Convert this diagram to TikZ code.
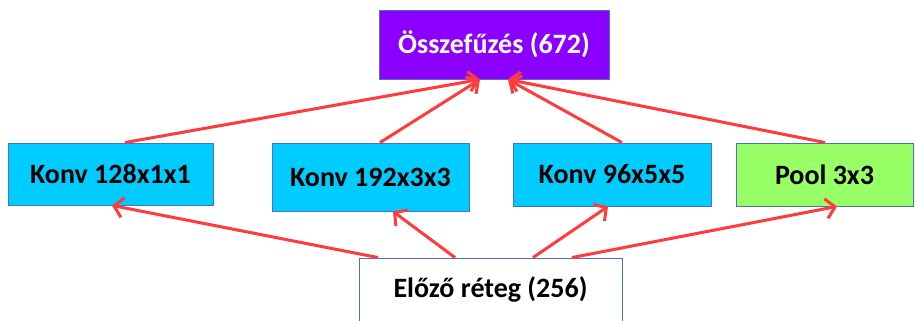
\documentclass[tikz,border=0pt]{standalone}
\usepackage{fontspec}
\setmainfont{Carlito}
\usetikzlibrary{arrows.meta}
\definecolor{edgeblue}{HTML}{4A72C0}
\definecolor{concatfill}{HTML}{8B00FF}
\definecolor{convfill}{HTML}{00CCFF}
\definecolor{poolfill}{HTML}{99FF66}
\definecolor{flowred}{HTML}{FF3B3B}
\begin{document}
\begin{tikzpicture}[x=1pt,y=-1pt,
  layerbox/.style={draw=edgeblue, line width=0.9pt, inner sep=0pt,
    font=\fontsize{28}{32}\selectfont\bfseries},
  flow/.style={draw=flowred, line width=3pt,
    -{Straight Barb[length=9pt,width=20pt]}}]
\useasboundingbox (0,0) rectangle (915,321);

% concatenation layer
\node[layerbox, fill=concatfill, text=white, minimum width=230pt, minimum height=69pt]
  (concat) at (494,44.5) {Összefűzés (672)};

% parallel branches
\node[layerbox, fill=convfill, minimum width=205pt, minimum height=62pt]
  (k128) at (110.5,174) {Konv 128x1x1};
\node[layerbox, fill=convfill, minimum width=197pt, minimum height=68pt]
  (k192) at (370.5,177) {Konv 192x3x3};
\node[layerbox, fill=convfill, minimum width=198pt, minimum height=63pt]
  (k96) at (612,174.5) {Konv 96x5x5};
\node[layerbox, fill=poolfill, minimum width=177pt, minimum height=63pt]
  (pool) at (824.5,174.5) {Pool 3x3};

% input layer (runs past the lower edge)
\node[layerbox, fill=white, minimum width=263pt, minimum height=84pt]
  (prevbox) at (490.5,300) {};
\node[font=\fontsize{28}{32}\selectfont\bfseries, inner sep=0pt, anchor=base]
  (prev) at (490.5,297) {Előző réteg (256)};

% branches into the concatenation
\draw[flow] ([xshift=14.5pt]k128.north) -- ([xshift=-14pt]concat.south);
\draw[flow] ([xshift=9.5pt]k192.north) -- ([xshift=-14pt]concat.south);
\draw[flow] ([xshift=10pt]k96.north) -- ([xshift=14pt]concat.south);
\draw[flow] ([xshift=0.5pt]pool.north) -- ([xshift=14pt]concat.south);

% input into each branch
\draw[flow] ([xshift=-112.5pt]prevbox.north) -- ([xshift=1.5pt]k128.south);
\draw[flow] ([xshift=-35.5pt]prevbox.north) -- ([xshift=22.5pt]k192.south);
\draw[flow] ([xshift=42.5pt]prevbox.north) -- ([xshift=-4pt]k96.south);
\draw[flow] ([xshift=81.5pt]prevbox.north) -- ([xshift=12.5pt]pool.south);
\end{tikzpicture}
\end{document}
